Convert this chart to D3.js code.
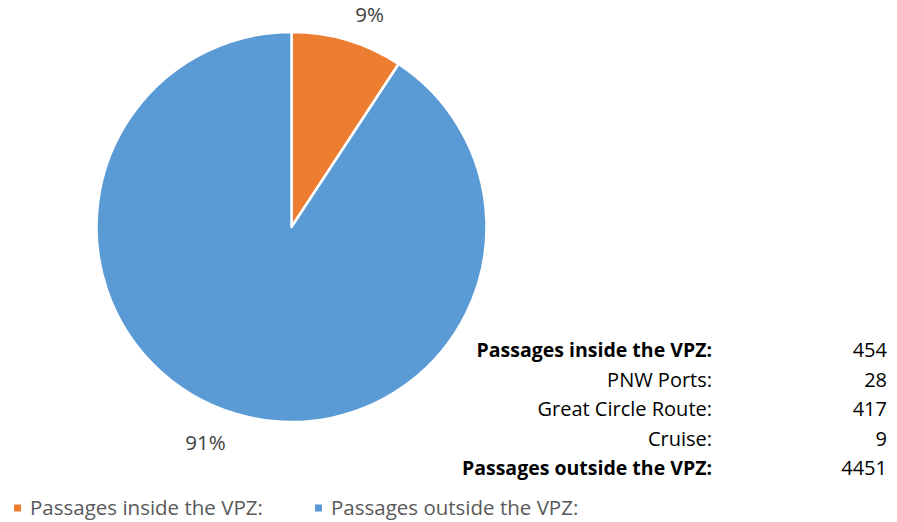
<!DOCTYPE html>
<html>
<head>
<meta charset="utf-8">
<script src="https://cdn.jsdelivr.net/npm/d3@7"></script>
<style>
  body { margin: 0; background: #fff; }
  svg { display: block; font-family: "Open Sans", "Noto Sans", sans-serif; }
</style>
</head>
<body>
<div id="chart"></div>
<script>
const categories = ["Passages inside the VPZ:", "Passages outside the VPZ:"];
const passageCounts = [454, 4451];
const sliceLabels = ["9%", "91%"];
const sliceColors = ["#ED7D31", "#5B9BD5"];

const tableLabels = ["Passages inside the VPZ:", "PNW Ports:", "Great Circle Route:", "Cruise:", "Passages outside the VPZ:"];
const tableValues = [454, 28, 417, 9, 4451];
const tableBold = [true, false, false, false, true];

const width = 897, height = 522;
const cx = 291.5, cy = 227, radius = 195;

const svg = d3.select("#chart").append("svg").attr("width", width).attr("height", height);

const pie = d3.pie().sort(null).value((d) => d)(passageCounts);
const arc = d3.arc().innerRadius(0).outerRadius(radius);

const pieGroup = svg.append("g").attr("transform", `translate(${cx},${cy})`);
pieGroup
  .selectAll("path")
  .data(pie)
  .join("path")
  .attr("d", arc)
  .attr("fill", (d, i) => sliceColors[i])
  .attr("stroke", "#fff")
  .attr("stroke-width", 2.5)
  .attr("stroke-linejoin", "round");

// percent labels outside the pie
const labelPos = [[78, -212], [-86, 216]];
pieGroup
  .selectAll("text")
  .data(pie)
  .join("text")
  .attr("transform", (d, i) => `translate(${labelPos[i][0]},${labelPos[i][1]})`)
  .attr("text-anchor", "middle")
  .attr("dy", "0.35em")
  .attr("fill", "#404040")
  .attr("font-size", 20.5)
  .text((d, i) => sliceLabels[i]);

// summary table
const rowY = d3.scalePoint().domain(d3.range(tableLabels.length)).range([350, 468]);
const table = svg.append("g");
table
  .selectAll("text.label")
  .data(tableLabels)
  .join("text")
  .attr("class", "label")
  .attr("x", 712)
  .attr("y", (d, i) => rowY(i))
  .attr("dy", "0.35em")
  .attr("text-anchor", "end")
  .attr("font-size", (d, i) => (tableBold[i] ? 19.5 : 20))
  .attr("font-weight", (d, i) => (tableBold[i] ? 700 : 400))
  .attr("fill", "#000")
  .text((d) => d);
table
  .selectAll("text.value")
  .data(tableValues)
  .join("text")
  .attr("class", "value")
  .attr("x", 887)
  .attr("y", (d, i) => rowY(i))
  .attr("dy", "0.35em")
  .attr("text-anchor", "end")
  .attr("font-size", 20)
  .attr("fill", "#000")
  .text((d) => d);

// legend
const legendX = [14, 315];
const legend = svg
  .append("g")
  .selectAll("g")
  .data(categories)
  .join("g")
  .attr("transform", (d, i) => `translate(${legendX[i]},508)`);
legend
  .append("rect")
  .attr("x", 0)
  .attr("y", -3.5)
  .attr("width", 7)
  .attr("height", 7)
  .attr("fill", (d, i) => sliceColors[i]);
legend
  .append("text")
  .attr("x", 16)
  .attr("dy", "0.35em")
  .attr("font-size", 20.5)
  .attr("fill", "#595959")
  .text((d) => d);
</script>
</body>
</html>
